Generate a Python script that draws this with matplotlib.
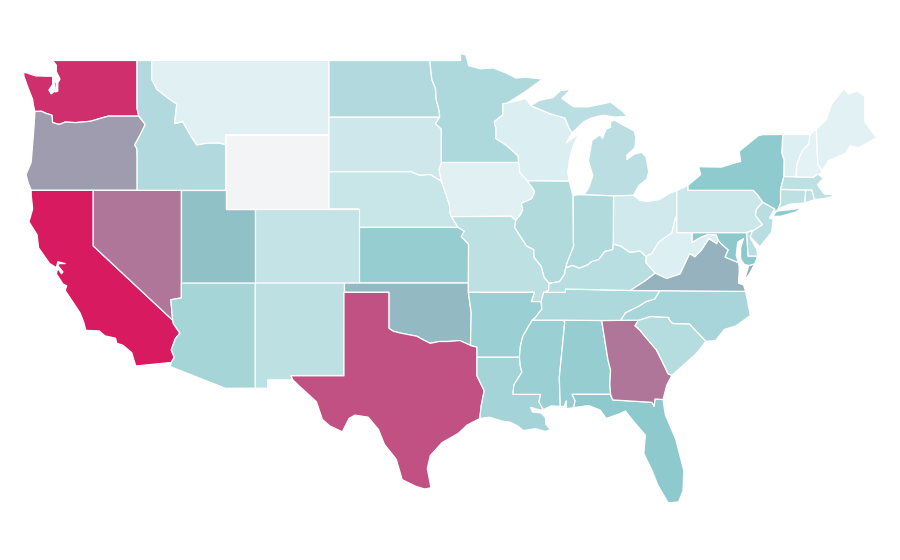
import matplotlib
matplotlib.use("Agg")
import matplotlib.pyplot as plt
from matplotlib.colors import LinearSegmentedColormap, Normalize
from matplotlib.patches import Polygon

# Shared borders (lon, lat)
or_wa = [(-116.92,46.0),(-118.98,46.0),(-119.3,45.93),(-120.2,45.72),(-121.2,45.65),(-121.9,45.68),(-122.3,45.55),(-122.75,45.65),(-122.8,46.05),(-123.2,46.15),(-123.5,46.26),(-123.95,46.25)]
or_id = [(-116.92,46.0),(-116.48,45.55),(-116.85,44.95),(-117.2,44.45),(-117.05,44.25),(-117.03,43.8),(-117.03,42.0)]
id_mt = [(-116.05,48.0),(-115.7,47.45),(-114.9,46.95),(-114.35,46.65),(-114.5,45.6),(-113.95,45.7),(-113.45,45.0),(-113.0,44.45),(-112.3,44.55),(-111.5,44.55),(-111.05,44.47)]
az_ca = [(-114.63,35.0),(-114.57,34.8),(-114.14,34.3),(-114.45,34.0),(-114.72,33.4),(-114.52,33.0),(-114.72,32.72)]
red_n = [(-97.23,49.0),(-97.1,48.0),(-96.85,47.5),(-96.8,46.9),(-96.6,46.3),(-96.56,45.94)]
sd_mn = [(-96.56,45.94),(-96.85,45.6),(-96.45,45.3),(-96.45,43.5)]
sd_ia = [(-96.45,43.5),(-96.6,43.1),(-96.45,42.49)]
sd_ne = [(-96.45,42.49),(-97.2,42.85),(-97.9,42.8),(-98.5,43.0),(-104.05,43.0)]
ne_ia = [(-96.45,42.49),(-96.1,41.7),(-95.9,41.2),(-95.85,40.7),(-95.77,40.58)]
ks_mo = [(-95.31,40.0),(-94.9,39.8),(-95.1,39.5),(-94.61,39.1),(-94.62,37.0)]
red_s = [(-94.48,33.64),(-95.2,33.9),(-96.0,33.85),(-96.6,33.85),(-97.2,33.75),(-97.7,33.95),(-98.1,34.13),(-99.2,34.3),(-99.7,34.4),(-100.0,34.56)]
mn_wi = [(-92.0,46.7),(-92.29,46.66),(-92.29,46.07),(-92.87,45.7),(-92.75,45.3),(-92.77,44.8),(-92.0,44.4),(-91.25,43.85),(-91.22,43.5)]
ia_wi = [(-91.22,43.5),(-91.15,42.95),(-90.64,42.51)]
ia_il = [(-90.64,42.51),(-90.15,41.95),(-90.2,41.8),(-90.35,41.55),(-91.05,41.3),(-90.95,40.95),(-91.1,40.7),(-91.42,40.38)]
mo_il = [(-91.42,40.38),(-91.5,40.0),(-91.1,39.5),(-90.7,39.0),(-90.2,38.8),(-90.2,38.4),(-89.7,37.9),(-89.5,37.3),(-89.15,36.98)]
ky_mo = [(-89.15,36.98),(-89.2,36.6),(-89.42,36.5)]
tn_ar = [(-89.7,36.0),(-89.65,35.6),(-90.1,35.13),(-90.3,35.0)]
ms_ar = [(-90.3,35.0),(-90.6,34.6),(-90.95,34.1),(-91.1,33.6),(-91.17,33.0)]
ms_la = [(-91.17,33.0),(-91.1,32.5),(-91.0,32.2),(-91.55,31.5),(-91.6,31.0),(-89.73,31.0),(-89.85,30.6),(-89.55,30.18)]
il_ky = [(-89.15,36.98),(-88.45,37.08),(-88.1,37.5),(-88.05,37.8)]
in_ky = [(-88.05,37.8),(-87.6,37.95),(-87.1,37.8),(-86.5,38.0),(-86.3,38.15),(-85.8,38.27),(-85.4,38.7),(-84.85,38.8),(-84.82,39.1)]
oh_ky = [(-84.82,39.1),(-84.3,38.98),(-83.7,38.65),(-83.0,38.72),(-82.6,38.42)]
wv_ky = [(-82.6,38.42),(-82.6,38.1),(-81.97,37.54)]
va_ky = [(-81.97,37.54),(-82.7,37.1),(-83.67,36.6)]
oh_wv = [(-82.6,38.42),(-82.2,38.6),(-81.75,39.2),(-81.4,39.4),(-80.85,39.7),(-80.65,40.4),(-80.52,40.64)]
wabash = [(-88.05,37.8),(-87.95,38.1),(-87.5,39.0),(-87.53,39.35)]
ga_sc = [(-83.1,35.0),(-83.35,34.7),(-83.0,34.45),(-82.75,34.2),(-81.9,33.4),(-81.4,32.6),(-81.1,32.1),(-80.85,32.03)]
nc_sc = [(-83.1,35.0),(-82.3,35.2),(-81.05,35.15),(-81.05,35.05),(-80.8,34.82),(-79.67,34.8),(-78.55,33.86)]
nc_tn = [(-84.32,34.99),(-84.0,35.4),(-83.1,35.75),(-82.6,36.0),(-82.0,36.15),(-81.68,36.59)]
ga_fl = [(-85.0,31.0),(-84.86,30.7),(-82.2,30.57),(-82.05,30.36),(-82.0,30.75),(-81.45,30.72)]
al_ga = [(-85.6,34.98),(-85.18,32.87),(-85.0,32.3),(-85.05,31.55),(-85.0,31.0)]
wv_va = [(-77.72,39.32),(-77.83,39.13),(-78.35,39.4),(-78.87,38.77),(-79.3,38.42),(-79.65,38.6),(-80.3,37.5),(-81.2,37.25),(-81.97,37.54)]
md_wv = [(-79.48,39.2),(-78.95,39.45),(-78.4,39.62),(-77.85,39.6),(-77.72,39.32)]
md_va = [(-76.35,38.1),(-76.95,38.3),(-77.25,38.4),(-77.04,38.79),(-77.5,39.1),(-77.72,39.32)]
pa_nj = [(-74.7,41.36),(-75.13,40.98),(-75.2,40.65),(-74.72,40.15),(-75.4,39.8)]
ny_pa = [(-74.7,41.36),(-75.05,41.75),(-75.35,42.0)]
ny_vt = [(-73.35,45.01),(-73.4,44.0),(-73.25,43.6),(-73.27,42.75)]
vt_nh = [(-71.5,45.01),(-71.6,44.5),(-72.05,44.1),(-72.4,43.4),(-72.46,42.73)]
nh_me = [(-71.08,45.3),(-70.98,43.4),(-70.7,43.07)]

def rv(b):
    return b[::-1]

# State outlines (lon, lat), one or more rings each
wa = [[(-122.76,49.0),(-117.04,49.0),(-117.04,46.42)] + or_wa + [(-124.05,46.6),(-124.1,46.9),(-124.4,47.5),(-124.7,48.17),(-124.7,48.38),(-123.9,48.17),(-123.1,48.15),(-122.75,48.15),(-122.75,47.7),(-123.0,47.4),(-122.85,47.2),(-122.6,47.35),(-122.65,47.85),(-122.5,47.8),(-122.55,47.3),(-122.4,47.35),(-122.4,47.8),(-122.25,48.0),(-122.5,48.4),(-122.5,48.75)]]
or_ = [rv(or_wa) + or_id[1:] + [(-124.2,42.0),(-124.4,42.4),(-124.55,42.85),(-124.2,43.5),(-124.1,44.5),(-124.0,45.5)]]
ca = [[(-124.2,42.0),(-120.0,42.0),(-120.0,39.0)] + az_ca + [(-117.12,32.53),(-117.25,32.85),(-117.4,33.25),(-118.0,33.65),(-118.4,33.75),(-118.5,34.03),(-119.2,34.15),(-119.6,34.42),(-120.5,34.45),(-120.65,34.9),(-120.9,35.4),(-121.9,36.6),(-121.8,36.85),(-122.05,36.95),(-122.5,37.5),(-122.4,37.8),(-122.15,37.5),(-122.05,37.6),(-122.4,37.95),(-122.3,38.05),(-121.9,38.05),(-122.4,38.15),(-122.5,37.83),(-122.95,38.05),(-123.7,38.9),(-123.8,39.6),(-124.35,40.3),(-124.1,41.0),(-124.2,41.75)]]
nv = [[(-120.0,42.0),(-114.04,42.0),(-114.04,36.2),(-114.75,36.1),(-114.63,35.0),(-120.0,39.0)]]
ut = [[(-114.04,42.0),(-111.05,42.0),(-111.05,41.0),(-109.05,41.0),(-109.05,37.0),(-114.04,37.0)]]
id_ = [[(-117.04,49.0),(-116.05,49.0)] + id_mt + [(-111.05,42.0)] + rv(or_id) + [(-117.04,46.42)]]
mt = [[(-116.05,49.0),(-104.05,49.0),(-104.05,45.0),(-111.05,45.0)] + rv(id_mt)]
wy = [[(-111.05,45.0),(-104.05,45.0),(-104.05,41.0),(-111.05,41.0)]]
nd = [[(-104.05,49.0)] + red_n + [(-104.05,45.94)]]
sd = [[(-104.05,45.94)] + sd_mn + sd_ia[1:] + sd_ne[1:]]
ne = [rv(sd_ne) + ne_ia[1:] + [(-95.31,40.0),(-102.05,40.0),(-102.05,41.0),(-104.05,41.0)]]
ks = [[(-102.05,40.0)] + ks_mo + [(-102.04,37.0)]]
co = [[(-109.05,41.0),(-102.05,41.0),(-102.05,37.0),(-109.05,37.0)]]
nm = [[(-109.05,37.0),(-103.0,37.0),(-103.04,32.0),(-106.62,32.0),(-106.5,31.78),(-108.2,31.78),(-108.2,31.33),(-109.05,31.33)]]
az = [[(-114.04,37.0),(-109.05,37.0),(-109.05,31.33),(-111.07,31.33),(-114.8,32.5)] + rv(az_ca) + [(-114.75,36.1),(-114.04,36.2)]]
ok = [[(-103.0,37.0),(-94.62,37.0),(-94.62,36.5),(-94.43,35.4)] + red_s + [(-100.0,36.5),(-103.0,36.5)]]
tx = [[(-103.04,36.5),(-100.0,36.5)] + rv(red_s) + [(-94.04,33.55),(-94.04,32.0),(-93.55,31.2),(-93.75,30.4),(-93.85,29.7),(-94.7,29.35),(-95.3,28.9),(-96.4,28.4),(-97.2,27.7),(-97.4,27.0),(-97.15,25.96),(-97.6,25.9),(-98.2,26.05),(-99.1,26.4),(-99.5,27.5),(-100.3,28.3),(-100.7,29.1),(-101.4,29.77),(-102.3,29.88),(-102.7,29.7),(-103.15,28.98),(-104.0,29.3),(-104.5,29.65),(-104.9,30.6),(-106.0,31.4),(-106.5,31.78),(-106.62,32.0),(-103.04,32.0)]]
mn = [[(-97.23,49.0),(-95.15,49.0),(-95.15,49.38),(-94.8,49.3),(-94.6,48.72),(-93.8,48.55),(-92.95,48.6),(-92.0,48.3),(-91.4,48.05),(-90.75,48.1),(-89.6,48.0),(-90.8,47.3)] + mn_wi + [(-96.45,43.5)] + rv(sd_mn)[1:] + rv(red_n)[1:-1]]
wi = [[(-92.0,46.7),(-91.2,46.85),(-90.75,46.95),(-90.4,46.57),(-89.1,46.13),(-88.1,45.9),(-87.8,45.35),(-87.6,45.1),(-88.0,44.55),(-87.4,44.9),(-87.05,45.25),(-87.5,44.45),(-87.75,43.8),(-87.9,43.0),(-87.8,42.49)] + rv(ia_wi) + rv(mn_wi)[1:]]
mi_up = [(-90.4,46.57),(-89.8,46.85),(-88.9,47.0),(-88.4,47.37),(-87.7,47.45),(-88.3,46.95),(-87.5,46.5),(-86.5,46.5),(-85.0,46.75),(-84.5,46.45),(-84.1,46.2),(-83.9,45.97),(-84.7,45.95),(-85.5,46.05),(-86.3,45.9),(-86.8,45.7),(-87.6,45.1),(-87.8,45.35),(-88.1,45.9),(-89.1,46.13)]
mi_lp = [(-84.75,45.78),(-84.1,45.5),(-83.4,45.2),(-83.3,44.85),(-83.35,44.3),(-83.9,43.9),(-83.9,43.65),(-83.4,43.95),(-82.9,44.05),(-82.6,43.8),(-82.42,43.0),(-82.55,42.6),(-83.1,42.25),(-83.45,41.73),(-84.8,41.7),(-86.8,41.76),(-86.5,42.1),(-86.2,42.8),(-86.5,43.6),(-86.25,44.7),(-85.7,45.0),(-85.55,44.8),(-85.3,45.3),(-85.0,45.4),(-85.0,45.7)]
mi = [mi_up, mi_lp]
oh = [[(-84.8,41.7),(-83.45,41.73),(-83.0,41.45),(-82.5,41.4),(-81.7,41.5),(-81.0,41.85),(-80.52,41.98)] + rv(oh_wv) + rv(oh_ky)[1:]]
in_ = [[(-87.53,41.71),(-87.2,41.76),(-86.8,41.76),(-84.8,41.7)] + rv(in_ky) + wabash[1:]]
il = [[(-90.64,42.51),(-87.8,42.49),(-87.55,41.72)] + rv(wabash) + rv(il_ky)[1:] + rv(mo_il)[1:] + rv(ia_il)[1:-1]]
ia = [[(-96.45,43.5)] + mn_wi[-1:] + ia_wi[1:] + ia_il[1:] + [(-91.73,40.6)] + rv(ne_ia) + sd_ia[1:-1]]
mo = [[(-95.77,40.58),(-91.73,40.6)] + mo_il + ky_mo[1:] + [(-89.53,36.5),(-89.7,36.0),(-90.37,36.0),(-90.15,36.5),(-94.62,36.5)] + rv(ks_mo)]
ar = [[(-94.62,36.5),(-90.15,36.5),(-90.37,36.0)] + tn_ar + ms_ar[1:] + [(-94.04,33.0),(-94.04,33.55),(-94.48,33.64),(-94.43,35.4)]]
la = [[(-94.04,33.0)] + ms_la + [(-89.75,30.15),(-90.4,30.3),(-90.3,30.05),(-89.7,30.0),(-89.4,29.75),(-89.4,29.4),(-89.05,29.1),(-89.4,29.0),(-90.1,29.15),(-90.9,29.05),(-91.3,29.3),(-91.8,29.5),(-92.3,29.55),(-93.2,29.77),(-93.85,29.7),(-93.75,30.4),(-93.55,31.2),(-94.04,32.0)]]
ms = [[(-90.3,35.0),(-88.2,35.0),(-88.1,34.9),(-88.47,31.9),(-88.4,30.35),(-89.0,30.38)] + rv(ms_la) + rv(ms_ar)[1:]]
al = [[(-88.2,35.0)] + al_ga + [(-87.6,31.0),(-87.4,30.65),(-87.5,30.28),(-88.0,30.23),(-88.0,30.65),(-88.15,30.35),(-88.4,30.35),(-88.47,31.9),(-88.1,34.9)]]
fl = [[(-87.6,31.0)] + ga_fl + [(-81.3,29.9),(-80.6,28.6),(-80.05,26.9),(-80.1,25.8),(-80.4,25.2),(-81.1,25.15),(-81.8,26.1),(-82.2,26.9),(-82.75,27.8),(-82.65,28.8),(-83.4,29.5),(-84.0,30.1),(-84.4,29.95),(-85.3,29.7),(-85.7,30.15),(-86.5,30.4),(-87.5,30.28),(-87.4,30.65)]]
ga = [[(-85.6,34.98)] + ga_sc + [(-81.2,31.5)] + rv(ga_fl) + rv(al_ga)[1:-1]]
sc = [nc_sc + [(-79.2,33.2),(-79.9,32.7)] + rv(ga_sc)[:-1]]
nc = [[(-84.32,34.99)] + nc_sc + [(-77.9,33.9),(-77.3,34.5),(-76.5,34.7),(-75.55,35.25),(-75.75,36.1),(-75.87,36.55)] + rv(nc_tn)]
tn = [[(-90.3,35.0),(-88.2,35.0),(-85.6,34.98)] + nc_tn + [(-83.67,36.6),(-88.05,36.68),(-88.07,36.5),(-89.42,36.5),(-89.53,36.5)] + tn_ar[:-1]]
ky = [[(-89.42,36.5),(-88.07,36.5),(-88.05,36.68)] + rv(va_ky) + rv(wv_ky)[1:] + rv(oh_ky)[1:] + rv(in_ky)[1:] + rv(il_ky)[1:] + [(-89.2,36.6)]]
va = [[(-83.67,36.6),(-81.68,36.59),(-75.87,36.55),(-76.0,36.9),(-76.35,37.0),(-76.3,37.55),(-76.3,37.9)] + md_va + wv_va[1:] + va_ky[1:-1], [(-75.95,37.15),(-75.65,37.95),(-75.25,38.03),(-75.6,37.5)]]
wv = [oh_wv + [(-80.52,39.72),(-79.48,39.72)] + md_wv + wv_va[1:] + rv(wv_ky)[:-1]]
md = [[(-79.48,39.72),(-75.79,39.72),(-75.7,38.46),(-75.05,38.45),(-75.25,38.03),(-75.65,37.95),(-75.95,38.0),(-76.2,38.3),(-76.2,38.9),(-76.0,39.4),(-76.4,39.2),(-76.5,38.5)] + md_va + rv(md_wv)[1:]]
de = [[(-75.79,39.72),(-75.5,39.83),(-75.4,39.6),(-75.55,39.45),(-75.1,38.8),(-75.05,38.45),(-75.7,38.46)]]
pa = [[(-80.52,41.98),(-79.76,42.27),(-79.76,42.0)] + rv(ny_pa) + pa_nj[1:] + [(-75.5,39.83),(-75.79,39.72),(-80.52,39.72)]]
nj = [[(-74.7,41.36),(-73.9,41.0),(-74.25,40.5),(-74.0,40.45),(-74.1,39.75),(-74.9,38.95),(-75.55,39.5)] + rv(pa_nj)[:-1]]
ny = [[(-79.76,42.27),(-78.9,42.85),(-79.05,43.27),(-77.5,43.25),(-76.5,43.5),(-76.2,43.55),(-76.3,44.1),(-75.8,44.43),(-75.0,44.95),(-74.7,45.0)] + ny_vt + [(-73.5,42.05),(-73.5,41.3),(-73.65,41.0),(-73.9,40.8),(-73.9,41.0)] + ny_pa + [(-79.76,42.0)], [(-74.05,40.6),(-73.75,40.88),(-72.6,40.98),(-72.0,41.08),(-72.5,40.82),(-73.5,40.6)]]
ct = [[(-73.5,42.05),(-71.8,42.02),(-71.85,41.32),(-72.9,41.25),(-73.65,41.0),(-73.5,41.3)]]
ri = [[(-71.8,42.02),(-71.38,42.02),(-71.2,41.5),(-71.85,41.32)]]
ma = [[(-73.27,42.75),(-72.46,42.73),(-71.3,42.7),(-71.0,42.88),(-70.6,42.65),(-71.0,42.3),(-70.55,41.8),(-70.05,41.78),(-70.25,42.05),(-70.0,41.8),(-70.0,41.65),(-70.65,41.55),(-71.2,41.5),(-71.38,42.02),(-71.8,42.02),(-73.5,42.05)]]
vt = [ny_vt[:1] + vt_nh + rv(ny_vt)[:-1]]
nh = [vt_nh[:1] + nh_me[:2] + [(-70.7,43.07),(-70.82,42.87),(-71.0,42.88),(-71.3,42.7)] + rv(vt_nh)]
me = [[(-71.08,45.3),(-70.4,45.8),(-70.25,46.2),(-70.0,46.7),(-69.23,47.46),(-68.9,47.2),(-68.3,47.35),(-67.8,47.07),(-67.8,45.7),(-67.45,45.3),(-67.0,44.85),(-68.2,44.3),(-68.8,44.4),(-69.1,44.0),(-69.8,43.75),(-70.25,43.6)] + rv(nh_me)]

outlines = {"WA":wa,"OR":or_,"CA":ca,"NV":nv,"UT":ut,"ID":id_,"MT":mt,"WY":wy,"ND":nd,"SD":sd,"NE":ne,"KS":ks,"CO":co,"NM":nm,"AZ":az,"OK":ok,"TX":tx,"MN":mn,"WI":wi,"MI":mi,"OH":oh,"IN":in_,"IL":il,"IA":ia,"MO":mo,"AR":ar,"LA":la,"MS":ms,"AL":al,"FL":fl,"GA":ga,"SC":sc,"NC":nc,"TN":tn,"KY":ky,"VA":va,"WV":wv,"MD":md,"DE":de,"PA":pa,"NJ":nj,"NY":ny,"CT":ct,"RI":ri,"MA":ma,"VT":vt,"NH":nh,"ME":me}

state_names = ["WA","OR","CA","NV","UT","ID","MT","WY","ND","SD","NE","KS","CO","NM","AZ","OK","TX","MN","WI","MI","OH","IN","IL","IA","MO","AR","LA","MS","AL","FL","GA","SC","NC","TN","KY","VA","WV","MD","DE","PA","NJ","NY","CT","RI","MA","VT","NH","ME"]
state_values = [91.7,48,100,63,33,19,5.8,0,19,11,12.6,27,13.7,16,22.6,36,78,20,7.3,16.5,10.5,19.5,19.5,5.8,16,26,23,26,27,29.5,63,18,22,20,17,39,7,30,17,11.7,17,29,16,16,16,6.7,3.8,5]

cmap = LinearSegmentedColormap.from_list("map", [(0,"#f3f4f6"),(0.03,"#e7f3f6"),(0.058,"#dff0f3"),(0.30,"#8cc8cc"),(1,"#d81b60")])
norm = Normalize(0, 100)

fig = plt.figure(figsize=(9, 5.6), dpi=100)
ax = fig.add_axes([0, 0, 1, 1])
for name, v in zip(state_names, state_values):
    for ring in outlines[name]:
        ax.add_patch(Polygon(ring, closed=True, facecolor=cmap(norm(v)), edgecolor="white", linewidth=0.9, joinstyle="round"))
ax.set_xlim(-126.31, -65.42)
ax.set_ylim(22.07, 52.26)
ax.axis("off")
fig.savefig("out.png", dpi=100, facecolor="white")
